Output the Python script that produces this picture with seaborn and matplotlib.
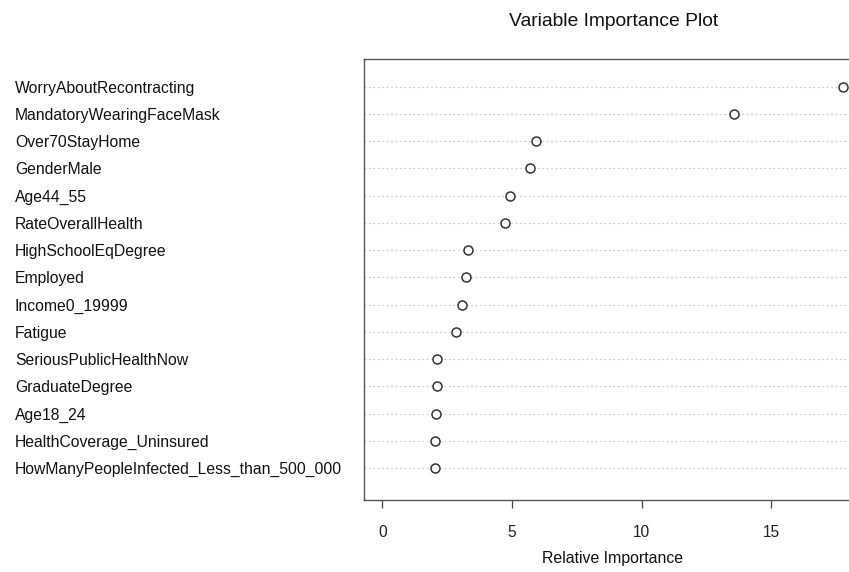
import matplotlib
matplotlib.use("Agg")
import matplotlib.pyplot as plt
import seaborn as sns
import pandas as pd
import numpy as np

variables = [
    "WorryAboutRecontracting",
    "MandatoryWearingFaceMask",
    "Over70StayHome",
    "GenderMale",
    "Age44_55",
    "RateOverallHealth",
    "HighSchoolEqDegree",
    "Employed",
    "Income0_19999",
    "Fatigue",
    "SeriousPublicHealthNow",
    "GraduateDegree",
    "Age18_24",
    "HealthCoverage_Uninsured",
    "HowManyPeopleInfected_Less_than_500_000",
]
importance = [17.77, 13.58, 5.93, 5.70, 4.94, 4.75, 3.31, 3.22, 3.09, 2.84,
              2.12, 2.11, 2.07, 2.02, 2.02]
xticks = [0, 5, 10, 15]

sns.set_style("white")
plt.rcParams["font.family"] = ["Liberation Sans", "DejaVu Sans"]

n = len(variables)
df = pd.DataFrame({
    "variable": variables,
    "importance": importance,
    "pos": np.arange(n, 0, -1),
})

W, H = 849, 572
fig = plt.figure(figsize=(W / 100, H / 100), dpi=100)
left_px, right_px, top_px, bottom_px = 364, 861.3, 59, 500
ax = fig.add_axes([left_px / W, 1 - bottom_px / H,
                   (right_px - left_px) / W, (bottom_px - top_px) / H])

# dotted row guides
for p in df["pos"]:
    ax.axhline(p, color="#c8c8c8", linestyle=(0, (1.5, 2.5)), linewidth=0.8, zorder=1)

sns.scatterplot(data=df, x="importance", y="pos", ax=ax, marker="o",
                s=42, facecolor="white", edgecolor="#333333", linewidth=1.1,
                zorder=3, legend=False)

ax.set_xlim(-0.71, 18.48)
ax.set_ylim(-0.163, 16.01)
ax.set_xticks(xticks)
ax.set_xticklabels([str(t) for t in xticks], fontsize=11.2, color="#222222")
ax.set_yticks(df["pos"])
ax.set_yticklabels(df["variable"], fontsize=11.35, color="#111111", ha="left")
ax.tick_params(axis="y", length=0, pad=(left_px - 15) * 72 / 100)
ax.tick_params(axis="x", direction="out", length=6, width=0.9, color="#444444",
               pad=12, bottom=True)
ax.set_xlabel("")
ax.set_ylabel("")
for side, sp in ax.spines.items():
    sp.set_visible(True)
    sp.set_color("#555555")
    sp.set_linewidth(1.0)

fig.text(613.5 / W, 1 - 22 / H, "Variable Importance Plot", ha="center", va="center",
         fontsize=13.9, color="#111111")
fig.text(612.5 / W, 1 - 558 / H, "Relative Importance", ha="center", va="center",
         fontsize=11.4, color="#111111")

fig.savefig("out.png", dpi=100)
